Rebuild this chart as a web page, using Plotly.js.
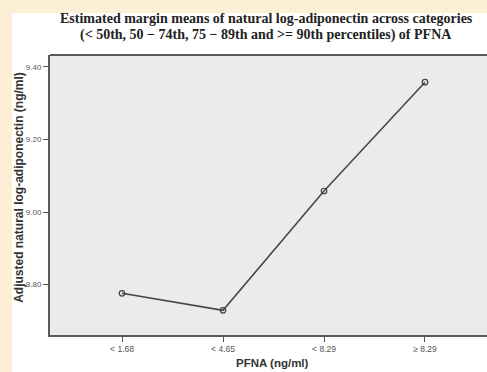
<!DOCTYPE html>
<html>
<head>
<meta charset="utf-8">
<script src="https://cdn.plot.ly/plotly-3.0.1.min.js"></script>
<style>
  html, body { margin:0; padding:0; width:487px; height:372px; overflow:hidden; background:#fdefd6; }
  #chart { position:absolute; left:0; top:0; width:487px; height:372px; }
</style>
</head>
<body>
<div id="chart"></div>
<script>
const categories = ["< 1.68", "< 4.65", "< 8.29", "\u2265 8.29"];
const meanValues = [8.776, 8.729, 9.058, 9.358];
const yTickVals = [8.80, 9.00, 9.20, 9.40];
const yTickText = ["8.80", "9.00", "9.20", "9.40"];
const titleLine1 = "Estimated margin means of natural log-adiponectin across categories";
const titleLine2 = "(< 50th, 50 \u2212 74th, 75 \u2212 89th and >= 90th percentiles) of PFNA";
const yTitleText = "Adjusted natural log-adiponectin (ng/ml)";
const xTitleText = "PFNA (ng/ml)";

const trace = {
  x: categories.map((_, i) => i),
  y: meanValues,
  type: 'scatter',
  mode: 'lines+markers',
  line: { color: '#444444', width: 1.5 },
  marker: { symbol: 'circle-open', size: 5.5, color: '#444444', line: { width: 1.2 } },
  hoverinfo: 'skip'
};

const serif = 'Liberation Serif, Times New Roman, serif';
const sans = 'Liberation Sans, Arial, sans-serif';

const layout = {
  width: 487, height: 372,
  margin: { l: 50, r: 0, t: 55, b: 37, pad: 0 },
  paper_bgcolor: '#fdefd6',
  plot_bgcolor: 'rgba(0,0,0,0)',
  showlegend: false,
  font: { family: sans, color: '#444444' },
  xaxis: {
    range: [-0.713, 3.614],
    tickvals: categories.map((_, i) => i),
    ticktext: categories,
    ticks: 'outside', ticklen: 5, tickwidth: 1, tickcolor: '#555555',
    showline: true, linecolor: '#5a5a5a', linewidth: 2,
    showgrid: false, zeroline: false,
    tickfont: { size: 8.5, color: '#555555' }
  },
  yaxis: {
    range: [8.661, 9.433],
    tickvals: yTickVals,
    ticktext: yTickText,
    ticks: 'outside', ticklen: 5, tickwidth: 1, tickcolor: '#555555',
    showline: true, linecolor: '#5a5a5a', linewidth: 2,
    showgrid: false, zeroline: false,
    tickfont: { size: 8, color: '#555555' }
  },
  shapes: [
    { type: 'rect', xref: 'paper', yref: 'paper', x0: -0.087, x1: 1.01, y0: -0.14, y1: 1.15,
      fillcolor: '#ffffff', line: { width: 0 }, layer: 'below' },
    { type: 'rect', xref: 'paper', yref: 'paper', x0: 0, x1: 1.01, y0: 0, y1: 1,
      fillcolor: '#ebebeb', line: { width: 0 }, layer: 'below' },
    { type: 'line', xref: 'paper', yref: 'paper', x0: 0, x1: 1, y0: 1, y1: 1,
      line: { color: '#5a5a5a', width: 2 } }
  ],
  annotations: [
    { text: titleLine1, xref: 'paper', yref: 'paper', x: 0.4954, y: 1.132,
      xanchor: 'center', yanchor: 'middle', showarrow: false,
      font: { size: 14, color: '#222222', family: serif, weight: 'bold' } },
    { text: titleLine2, xref: 'paper', yref: 'paper', x: 0.4954, y: 1.071,
      xanchor: 'center', yanchor: 'middle', showarrow: false,
      font: { size: 14, color: '#222222', family: serif, weight: 'bold' } },
    { text: yTitleText, xref: 'paper', yref: 'paper', x: -0.071, y: 0.529,
      xanchor: 'center', yanchor: 'middle', textangle: -90, showarrow: false,
      font: { size: 12, color: '#333333', family: sans, weight: 'bold' } },
    { text: xTitleText, xref: 'paper', yref: 'paper', x: 0.51, y: -0.1,
      xanchor: 'center', yanchor: 'middle', showarrow: false,
      font: { size: 11.5, color: '#333333', family: sans, weight: 'bold' } }
  ]
};

Plotly.newPlot('chart', [trace], layout, { staticPlot: true, displayModeBar: false });
</script>
</body>
</html>
